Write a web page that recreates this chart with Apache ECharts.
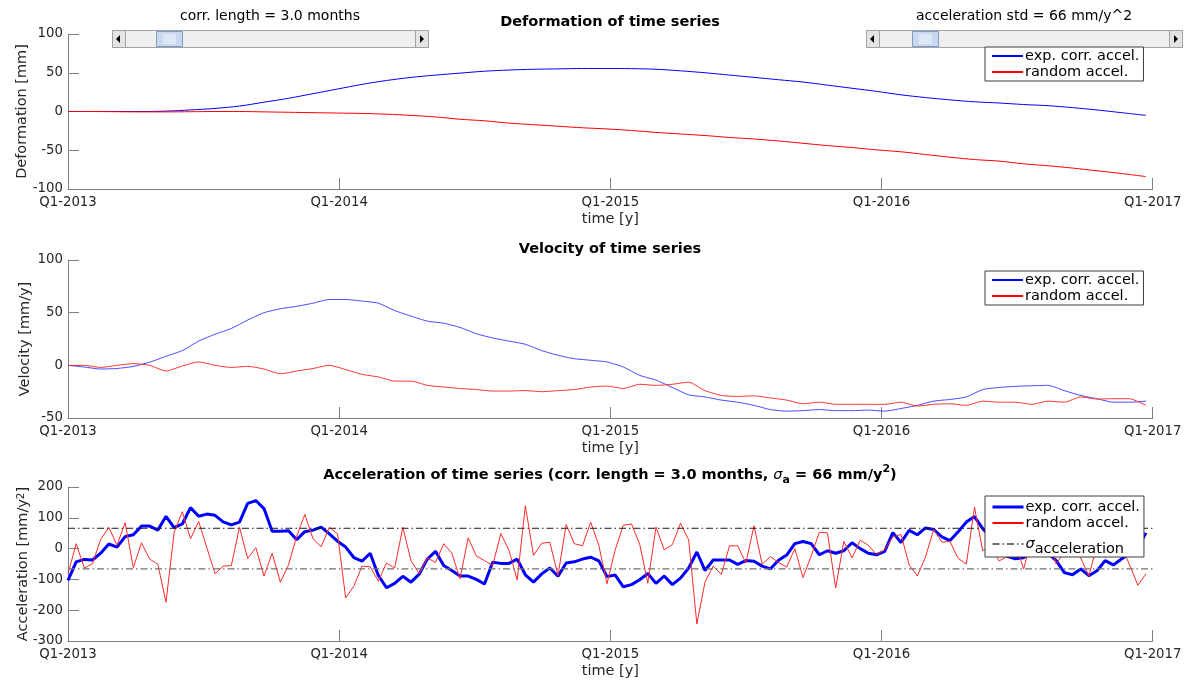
<!DOCTYPE html>
<html><head><meta charset="utf-8">
<script src="https://cdn.jsdelivr.net/npm/echarts@6/dist/echarts.min.js"></script>
<style>html,body{margin:0;padding:0;background:#fff}#c{width:1187px;height:680px}</style>
</head><body><div id="c"></div>
<script>
// ---------- data ----------
const tickLabels = ['Q1-2013', 'Q1-2014', 'Q1-2015', 'Q1-2016', 'Q1-2017'];
const totalDays = 1461;          // Q1-2013 .. Q1-2017
const defStepDays = 33;
const velStepDays = 22;
const accStepDays = 11;
const sigmaA = 66;               // mm/y^2
const corrLengthMonths = '3.0';
const seriesNames = ['exp. corr. accel.', 'random accel.'];
const sigmaName = 'sigma_acceleration';

const defExp = [0, 0, 0, 0, 0.5, 2, 4, 7, 12, 17, 23, 29, 35, 40, 44, 47, 49.5, 52, 53.5, 54.5, 55, 55.5, 55.5, 55.3, 54.5, 52.5, 50, 47, 44, 41, 38, 34, 30, 26, 21.5, 18, 15, 12.5, 11, 9, 7.5, 5, 2, -1.5, -5];
const defRand = [0, 0, -0.3, -0.5, -0.5, -0.3, 0, 0, -0.5, -1, -1.5, -2, -2.5, -3.5, -5, -7, -10, -12, -15, -17, -19, -21, -22.5, -24.5, -27, -29, -31, -33.5, -35.5, -38, -41, -44, -46.5, -49.5, -52, -55.5, -59, -62, -64, -67.5, -70, -73, -76.5, -80, -84];

const velExp = [0, -1.6, -3.5, -3, -1, 3, 8.6, 14, 23, 29.5, 35, 43, 50, 53.7, 56, 59, 62.5, 62.5, 61, 59, 52, 46.7, 42, 40, 36, 30, 26, 23, 20, 14, 9.5, 6.3, 4.8,
  3.2, -1.6, -9.5, -14, -21, -28, -30, -33, -35, -38, -42, -43.5, -43, -42, -43, -43, -42.5, -43.5, -41, -38, -34, -32.4, -30, -23, -21, -20, -19.4, -19, -24, -28.6, -31.7, -35, -35, -34];
const velRand = [0, 0, -2, 0, 1.6, 0, -5.4, -0.6, 3.2, 0, -2, -1, -3.5, -8, -5.4, -3, 0, -4, -8.6, -11, -15, -15, -19, -20.6, -22, -23, -24.4, -24.4, -24, -25, -24, -23, -20.6,
  -19.7, -22, -18, -19, -18, -16, -24, -28.6, -29.5, -29, -31, -33, -36.5, -35, -37, -37, -37, -37, -35, -38.7, -37, -36.5, -38, -34, -35, -35, -37, -34, -35, -30, -32, -31.7, -31.7, -38];

const accExp = [-103, -43, -35, -37, -15, 15, 5, 39, 45, 73, 73, 60, 105, 68, 80, 133, 105, 112, 108, 87, 77, 86, 147, 156, 130, 56, 56, 58, 29, 55, 60, 70, 48,
  24, 5, -29, -41, -15, -87, -127, -113, -90, -109, -83, -34, -9, -55, -71, -89, -89, -100, -115, -44, -48, -48, -34, -85, -109, -82, -63, -90, -47, -43, -34, -28, -40,
  -91, -86, -124, -117, -101, -81, -113, -89, -117, -96, -63, -11, -71, -37, -37, -37, -51, -39, -41, -57, -66, -38, -21, 16, 23, 16, -20, -7, -15, -7, 19, 0, -15,
  -20, -9, 52, 20, 59, 45, 67, 62, 38, 26, 55, 86, 104, 65, 35, 5, -25, -33, -30, -5, 5, -15, -39, -78, -85, -66, -88, -72, -39, -53, -34, -15, 3, 51];
const accRand = [-82, 16, -63, -49, 30, 69, 11, 84, -62, 19, -34, -51, -174, 53, 120, 32, 88, 3, -82, -57, -55, 69, -32, 3, -89, -15, -109, -53, 40, 111, 32, 6, 69,
  48, -160, -122, -57, -59, -106, -47, -63, 69, -39, -82, -30, -45, 16, -15, -98, 35, -24, -39, -55, 49, -6, -102, 139, -22, 17, 21, -87, 78, 16, 9, 86, 10,
  -114, -4, 76, 80, 14, -112, 70, -4, 13, 82, 28, -245, -109, -57, -84, 9, 9, -47, 74, -51, -26, -45, -60, 0, -94, -24, 53, 51, -128, 24, -30, 27, 11,
  -19, -4, 38, 46, -53, -89, -27, 62, 21, 23, -32, -50, 134, -7, 10, -40, -26, 20, -66, 30, -10, 40, -50, -10, 45, -30, -89, 10, -29, 40, 5, -53, -119, -82];

// ---------- chart ----------
const FF = 'DejaVu Sans';
const AX = '#808080';
const TX = '#262626';
const toXY = (arr, step) => arr.map((v, i) => [i * step, v]);
const yearLen = totalDays / 4;

function xAxis(gi) {
  return {
    type: 'value', gridIndex: gi, min: 0, max: totalDays, interval: yearLen,
    axisLine: { show: true, onZero: false, lineStyle: { color: AX, width: 1 } },
    axisTick: { show: true, inside: true, length: 11, lineStyle: { color: AX } },
    axisLabel: { formatter: v => tickLabels[Math.round(v / yearLen)], color: TX, fontSize: 13.3, fontFamily: FF, margin: 7, showMinLabel: true, showMaxLabel: true },
    splitLine: { show: false },
    name: 'time [y]', nameLocation: 'middle', nameGap: 23, nameMoveOverlap: false,
    nameTextStyle: { color: TX, fontSize: 14.5, fontFamily: FF }
  };
}
function yAxis(gi, min, max, interval, name, gap, rich) {
  return {
    type: 'value', gridIndex: gi, min, max, interval,
    axisLine: { show: true, onZero: false, lineStyle: { color: AX, width: 1 } },
    axisTick: { show: true, inside: true, length: 11, lineStyle: { color: AX } },
    axisLabel: { color: TX, fontSize: 13.3, fontFamily: FF, margin: 5 },
    splitLine: { show: false },
    name, nameLocation: 'middle', nameGap: gap, nameRotate: 90, nameMoveOverlap: false,
    nameTextStyle: Object.assign({ color: TX, fontSize: 14.5, fontFamily: FF }, rich ? { rich } : {})
  };
}
function legend(top, items, extraRich, pad) {
  return {
    orient: 'vertical', left: 985, top, width: 150,
    backgroundColor: '#fff', borderColor: '#3c3c3c', borderWidth: 1,
    padding: pad || [1, 4, 1, 6], itemGap: 0, itemWidth: 31, itemHeight: 12,
    itemStyle: { opacity: 0, borderWidth: 0 },
    textStyle: Object.assign({ color: '#000', fontSize: 14.5, fontFamily: FF, lineHeight: 16, padding: [0, 0, 0, -3] }, extraRich ? { rich: extraRich } : {}),
    data: items, selectedMode: false, z: 10,
    formatter: n => n === sigmaName ? '{s|σ}{sub|acceleration}' : n
  };
}
const line = (name, xi, data, color, width, extra) => Object.assign({
  type: 'line', name, xAxisIndex: xi, yAxisIndex: xi, data, symbol: 'none', showSymbol: false,
  lineStyle: { color, width }, itemStyle: { color }, animation: false, silent: true
}, extra || {});

const dashDot = [7, 3, 1.5, 3];

function slider(x, w, thumbX, label) {
  const y = 30, h = 17, b = 13;
  return [
    { type: 'text', x: x + w / 2, y: 16, style: { text: label, fill: '#000', fontSize: 14, fontFamily: FF, align: 'center', verticalAlign: 'middle' } },
    { type: 'rect', shape: { x: x + 0.5, y: y + 0.5, width: w, height: h }, style: { fill: '#efefef', stroke: '#a3a3a3', lineWidth: 1 } },
    { type: 'rect', shape: { x: x + 0.5, y: y + 0.5, width: b, height: h }, style: { fill: '#e4e4e4', stroke: '#a3a3a3', lineWidth: 1 } },
    { type: 'rect', shape: { x: x + w - b + 0.5, y: y + 0.5, width: b, height: h }, style: { fill: '#e4e4e4', stroke: '#a3a3a3', lineWidth: 1 } },
    { type: 'polygon', shape: { points: [[x + 4, y + 9], [x + 8, y + 5], [x + 8, y + 13]] }, style: { fill: '#000' } },
    { type: 'polygon', shape: { points: [[x + w - 4, y + 9], [x + w - 8, y + 5], [x + w - 8, y + 13]] }, style: { fill: '#000' } },
    { type: 'rect', shape: { x: thumbX + 0.5, y: y + 1.5, width: 26, height: h - 2 }, style: { fill: '#c9d8ee', stroke: '#7e9cc4', lineWidth: 1 } },
    { type: 'rect', shape: { x: thumbX + 7, y: y + 4, width: 13, height: h - 7 }, style: { fill: '#dde7f5', stroke: null } }
  ];
}

const titleRich = {
  b: { fontSize: 14.5, fontWeight: 'bold', fontFamily: FF, fill: '#000', lineHeight: 22, verticalAlign: 'middle' },
  s: { fontSize: 14.5, fontStyle: 'italic', fontFamily: FF, fill: '#000', lineHeight: 22, verticalAlign: 'middle' },
  sub: { fontSize: 11, fontWeight: 'bold', fontFamily: FF, fill: '#000', lineHeight: 11, verticalAlign: 'bottom' },
  sup: { fontSize: 11, fontWeight: 'bold', fontFamily: FF, fill: '#000', lineHeight: 11, verticalAlign: 'top' }
};

const option = {
  animation: false,
  backgroundColor: '#fff',
  grid: [
    { left: 68, top: 34, width: 1084.7, height: 155 },
    { left: 68, top: 260, width: 1084.7, height: 158 },
    { left: 68, top: 487, width: 1084.7, height: 156 }
  ],
  xAxis: [xAxis(0), xAxis(1), xAxis(2)],
  yAxis: [
    yAxis(0, -100, 100, 50, 'Deformation [mm]', 38),
    yAxis(1, -50, 100, 50, 'Velocity [mm/y]', 35),
    yAxis(2, -300, 200, 100, 'Acceleration [mm/y{sup|2}]', 37, {
      sup: { fontSize: 10.5, fontFamily: FF, color: TX, lineHeight: 10, verticalAlign: 'top' }
    })
  ],
  legend: [
    legend(47, seriesNames.map(n => ({ name: n }))),
    legend(271, seriesNames.map(n => ({ name: n }))),
    legend(496, [
      { name: seriesNames[0], lineStyle: { width: 3, color: '#0000ff' } },
      { name: seriesNames[1] },
      { name: sigmaName }
    ], {
      s: { fontSize: 14.5, fontStyle: 'italic', fontFamily: FF, color: '#000', lineHeight: 26, verticalAlign: 'middle' },
      sub: { fontSize: 14.5, fontFamily: FF, color: '#000', lineHeight: 14, verticalAlign: 'bottom' }
    }, [3, 4, 0, 6])
  ],
  series: [
    line(seriesNames[0], 0, toXY(defExp, defStepDays), '#0000ff', 1, { smooth: 0.3 }),
    line(seriesNames[1], 0, toXY(defRand, defStepDays), '#ff0000', 1, { smooth: 0.3 }),
    line(seriesNames[0], 1, toXY(velExp, velStepDays), '#4646ff', 1, { smooth: 0.2 }),
    line(seriesNames[1], 1, toXY(velRand, velStepDays), '#ff3030', 1, { smooth: 0.2 }),
    line(seriesNames[0], 2, toXY(accExp, accStepDays), '#0000ff', 3),
    line(seriesNames[1], 2, toXY(accRand, accStepDays), '#ff2a2a', 1),
    line('sigma_upper', 2, [[0, sigmaA], [totalDays, sigmaA]], '#1a1a1a', 1, { lineStyle: { color: '#1a1a1a', width: 1, type: dashDot } }),
    line(sigmaName, 2, [[0, -sigmaA], [totalDays, -sigmaA]], '#707070', 1.3, { lineStyle: { color: '#707070', width: 1.3, type: dashDot } })
  ],
  graphic: [
    { type: 'text', x: 610, y: 22, style: { text: 'Deformation of time series', fill: '#000', fontSize: 14.5, fontWeight: 'bold', fontFamily: FF, align: 'center', verticalAlign: 'middle' } },
    { type: 'text', x: 610, y: 249, style: { text: 'Velocity of time series', fill: '#000', fontSize: 14.5, fontWeight: 'bold', fontFamily: FF, align: 'center', verticalAlign: 'middle' } },
    { type: 'text', x: 610, y: 475, style: {
      text: `{b|Acceleration of time series (corr. length = ${corrLengthMonths} months, }{s|σ}{sub|a}{b| = ${sigmaA} mm/y}{sup|2}{b|)}`,
      rich: titleRich, align: 'center', verticalAlign: 'middle' } },
    ...slider(112, 316, 156, `corr. length = ${corrLengthMonths} months`),
    ...slider(866, 316, 912, `acceleration std = ${sigmaA} mm/y^2`)
  ]
};
const chart = echarts.init(document.getElementById('c'), null, { renderer: 'canvas' });
chart.setOption(option);
</script></body></html>
